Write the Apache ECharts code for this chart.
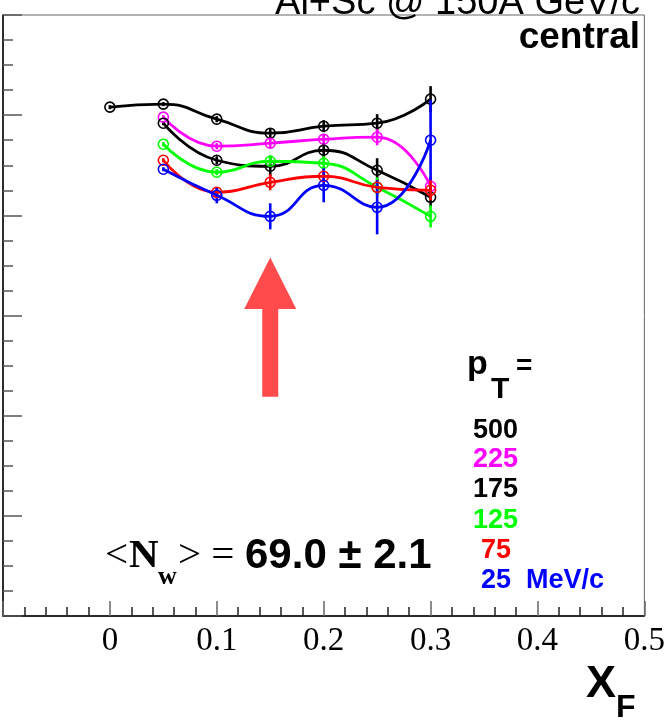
<!DOCTYPE html>
<html>
<head>
<meta charset="utf-8">
<script src="https://cdn.jsdelivr.net/npm/echarts@6/dist/echarts.min.js"></script>
<style>
  html, body { margin: 0; padding: 0; background: #fff; }
  #chart { width: 668px; height: 723px; }
</style>
</head>
<body>
<div id="chart"></div>
<script>
// x_F bins
const xAll = [0, 0.05, 0.1, 0.15, 0.2, 0.25, 0.3];
const xFrom005 = [0.05, 0.1, 0.15, 0.2, 0.25, 0.3];

// values and errors per p_T bin
const pt500 = [5.08, 5.11, 4.96, 4.82, 4.89, 4.92, 5.16];
const pt500Err = [0.02, 0.02, 0.03, 0.05, 0.06, 0.09, 0.13];
const pt225 = [4.98, 4.69, 4.72, 4.76, 4.78, 4.29];
const pt225Err = [0.02, 0.03, 0.05, 0.05, 0.08, 0.10];
const pt175 = [4.92, 4.55, 4.49, 4.65, 4.45, 4.18];
const pt175Err = [0.02, 0.04, 0.10, 0.07, 0.12, 0.10];
const pt125 = [4.71, 4.43, 4.54, 4.52, 4.28, 3.99];
const pt125Err = [0.02, 0.03, 0.06, 0.07, 0.10, 0.11];
const pt75 = [4.55, 4.23, 4.33, 4.39, 4.28, 4.25];
const pt75Err = [0.02, 0.05, 0.08, 0.06, 0.07, 0.10];
const pt25 = [4.46, 4.20, 3.99, 4.30, 4.08, 4.75];
const pt25Err = [0.02, 0.08, 0.13, 0.17, 0.27, 0.40];

// x tick labels
const xTickLabels = ['0', '0.1', '0.2', '0.3', '0.4', '0.5'];

// arrow marker: [x, tail, head base, tip]
const arrow = [[0.15, 2.19, 3.065, 3.58]];

const curves = [
  { name: '500', xs: xAll, ys: pt500, err: pt500Err, color: '#000000' },
  { name: '225', xs: xFrom005, ys: pt225, err: pt225Err, color: '#ff00ff' },
  { name: '175', xs: xFrom005, ys: pt175, err: pt175Err, color: '#000000' },
  { name: '125', xs: xFrom005, ys: pt125, err: pt125Err, color: '#00ff00' },
  { name: '75', xs: xFrom005, ys: pt75, err: pt75Err, color: '#ff0000' },
  { name: '25', xs: xFrom005, ys: pt25, err: pt25Err, color: '#0000ff' }
];

const series = [];
curves.forEach((c, i) => {
  series.push({
    type: 'custom',
    name: c.name + ' err',
    z: 2 + i,
    data: c.xs.map((x, k) => [x, c.ys[k], c.err[k]]),
    renderItem: (params, api) => {
      const lo = api.coord([api.value(0), api.value(1) - api.value(2)]);
      const hi = api.coord([api.value(0), api.value(1) + api.value(2)]);
      return {
        type: 'line',
        shape: { x1: lo[0], y1: lo[1], x2: hi[0], y2: hi[1] },
        style: { stroke: c.color, lineWidth: 2.6 }
      };
    }
  });
  series.push({
    type: 'line',
    name: c.name,
    z: 3 + i,
    data: c.xs.map((x, k) => [x, c.ys[k]]),
    smooth: 0.5,
    symbol: 'circle',
    symbolSize: 10,
    lineStyle: { color: c.color, width: 2.8 },
    itemStyle: { color: 'rgba(0,0,0,0)', borderColor: c.color, borderWidth: 1.6 },
    emphasis: { disabled: true }
  });
});

series.push({
  type: 'custom',
  name: 'arrow',
  z: 20,
  data: arrow,
  renderItem: (params, api) => {
    const x = api.value(0);
    const tail = api.coord([x, api.value(1)]);
    const neck = api.coord([x, api.value(2)]);
    const tip = api.coord([x, api.value(3)]);
    const cx = tip[0], hw = 26, sw = 8;
    return {
      type: 'polygon',
      shape: {
        points: [
          [cx, tip[1]],
          [cx + hw, neck[1]],
          [cx + sw, neck[1]],
          [cx + sw, tail[1]],
          [cx - sw, tail[1]],
          [cx - sw, neck[1]],
          [cx - hw, neck[1]]
        ]
      },
      style: { fill: '#ff4b4b' }
    };
  }
});

const SANS = 'Liberation Sans, Arial, sans-serif';
const SERIF = 'Liberation Serif, Times New Roman, serif';

function txt(text, x, y, size, opts) {
  return {
    type: 'text',
    x: x, y: y,
    z: 50,
    style: Object.assign({
      text: text,
      fontFamily: SANS,
      fontSize: size,
      fill: '#000',
      verticalAlign: 'middle'
    }, opts || {})
  };
}

const chart = echarts.init(document.getElementById('chart'), null, { renderer: 'canvas' });
chart.setOption({
  animation: false,
  backgroundColor: '#fff',
  grid: { left: 3, right: 19, top: 15, bottom: 107, show: true, borderColor: '#666', borderWidth: 1 },
  xAxis: {
    type: 'value',
    min: -0.1, max: 0.5, interval: 0.1,
    axisLine: { onZero: false, lineStyle: { color: '#000', width: 1.5 } },
    axisTick: { inside: true, length: 15, lineStyle: { color: '#666', width: 1.5 } },
    minorTick: { show: true, splitNumber: 5, length: 9, lineStyle: { color: '#222', width: 1.5 } },
    splitLine: { show: false },
    minorSplitLine: { show: false },
    axisLabel: {
      fontFamily: SERIF, fontSize: 33, color: '#000', margin: 9,
      formatter: (v) => {
        const k = Math.round(v * 10);
        return k < 0 ? '' : xTickLabels[k];
      }
    }
  },
  yAxis: {
    type: 'value',
    min: 0, max: 6, interval: 1,
    axisLine: { onZero: false, lineStyle: { color: '#000', width: 1.5 } },
    axisTick: { inside: true, length: 19, lineStyle: { color: '#555', width: 1.5 } },
    minorTick: { show: true, splitNumber: 4, length: 10, lineStyle: { color: '#555', width: 1.5 } },
    splitLine: { show: false },
    minorSplitLine: { show: false },
    axisLabel: { show: false }
  },
  series: series,
  graphic: [
    txt('Al+Sc @ 150A GeV/c', 640, 4, 38, { align: 'right' }),
    txt('central', 640, 38, 37, { align: 'right', fontWeight: 'bold' }),
    txt('p', 467, 365, 34, { fontWeight: 'bold' }),
    txt('T', 491, 390, 30, { fontWeight: 'bold' }),
    txt('=', 516, 366, 28, { fontWeight: 'bold' }),
    txt('500', 473, 431, 27, { fontWeight: 'bold', fill: '#000' }),
    txt('225', 473, 460, 27, { fontWeight: 'bold', fill: '#ff00ff' }),
    txt('175', 473, 490, 27, { fontWeight: 'bold', fill: '#000' }),
    txt('125', 473, 521, 27, { fontWeight: 'bold', fill: '#00ff00' }),
    txt('75', 481, 551, 27, { fontWeight: 'bold', fill: '#ff0000' }),
    txt('25  MeV/c', 481, 581, 27, { fontWeight: 'bold', fill: '#0000ff' }),
    txt('<', 105, 556, 41, { fontFamily: SERIF }),
    txt('N', 129, 556, 41, { fontFamily: SERIF, fontWeight: 'bold' }),
    txt('w', 158, 577, 26, { fontFamily: SERIF, fontWeight: 'bold' }),
    txt('> =', 178, 556, 41, { fontFamily: SERIF }),
    txt('69.0 \u00b1 2.1', 245, 556, 42, { fontWeight: 'bold' }),
    txt('X', 586, 685, 45, { fontWeight: 'bold' }),
    txt('F', 616, 708, 32, { fontWeight: 'bold' })
  ]
});
</script>
</body>
</html>
